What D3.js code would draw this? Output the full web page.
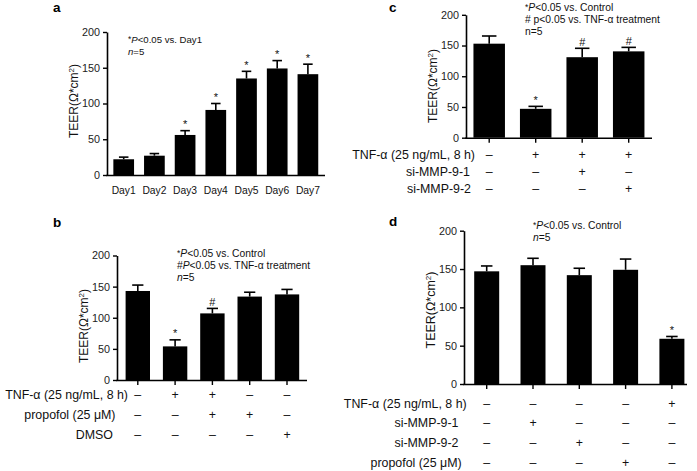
<!DOCTYPE html>
<html><head><meta charset="utf-8">
<script src="https://cdn.jsdelivr.net/npm/d3@7/dist/d3.min.js"></script>
<style>
html,body{margin:0;padding:0;background:#fff;}
svg{display:block;font-family:"Liberation Sans",Arial,sans-serif;}
</style></head>
<body>
<svg id="chart" width="697" height="471"></svg>
<script>
// ---------- DATA ----------
const yTicks = [0, 50, 100, 150, 200];

// Panel a
const aCats = ["Day1", "Day2", "Day3", "Day4", "Day5", "Day6", "Day7"];
const aMeans = [22, 27, 56, 91, 135, 149, 141];
const aSD = [3, 3, 6, 9, 10, 11, 14];
const aSig = ["", "", "*", "*", "*", "*", "*"];

// Panel b
const bCats = ["b1", "b2", "b3", "b4", "b5"];
const bMeans = [143, 54, 107, 134, 137.5];
const bSD = [9.5, 10.5, 8, 7, 8];
const bSig = ["", "*", "#", "", ""];
const bRowLabels = ["TNF-α (25 ng/mL, 8 h)", "propofol (25 μM)", "DMSO"];
const bRowSigns = [
  ["–", "+", "+", "–", "–"],
  ["–", "–", "+", "+", "–"],
  ["–", "–", "–", "–", "+"]
];

// Panel c
const cCats = ["c1", "c2", "c3", "c4"];
const cMeans = [153, 47, 131, 140.5];
const cSD = [12.5, 4, 14.5, 6.5];
const cSig = ["", "*", "#", "#"];
const cRowLabels = ["TNF-α (25 ng/mL, 8 h)", "si-MMP-9-1", "si-MMP-9-2"];
const cRowSigns = [
  ["–", "+", "+", "+"],
  ["–", "–", "+", "–"],
  ["–", "–", "–", "+"]
];

// Panel d
const dCats = ["d1", "d2", "d3", "d4", "d5"];
const dMeans = [147, 155, 142, 149, 59];
const dSD = [7, 9, 9, 14, 3];
const dSig = ["", "", "", "", "*"];
const dRowLabels = ["TNF-α (25 ng/mL, 8 h)", "si-MMP-9-1", "si-MMP-9-2", "propofol (25 μM)"];
const dRowSigns = [
  ["–", "–", "–", "–", "+"],
  ["–", "+", "–", "–", "–"],
  ["–", "–", "+", "–", "–"],
  ["–", "–", "–", "+", "–"]
];

// ---------- DRAW ----------
const svg = d3.select("#chart");
const FONT_TXT = "#111";

function panel(o) {
  const g = svg.append("g");
  const y = d3.scaleLinear().domain([0, 200]).range([o.y0, o.y200]);
  const n = o.cats.length;
  const pi = 1 - o.bw / o.step;
  const x = d3.scaleBand().domain(o.cats)
    .range([o.c0 - o.step / 2, o.c0 - o.step / 2 + n * o.step])
    .paddingInner(pi).paddingOuter(pi / 2);
  const cx = c => x(c) + x.bandwidth() / 2;

  // bars
  g.selectAll("rect.bar").data(o.cats).join("rect")
    .attr("x", c => x(c)).attr("width", x.bandwidth())
    .attr("y", (c, i) => y(o.means[i]))
    .attr("height", (c, i) => y(0) - y(o.means[i]))
    .attr("fill", "#000");

  // error bars
  const capW = x.bandwidth() * 0.46;
  o.cats.forEach((c, i) => {
    const top = y(o.means[i] + o.sd[i]);
    g.append("line").attr("x1", cx(c)).attr("x2", cx(c))
      .attr("y1", y(o.means[i])).attr("y2", top)
      .attr("stroke", "#000").attr("stroke-width", 1.6);
    g.append("line").attr("x1", cx(c) - capW / 2).attr("x2", cx(c) + capW / 2)
      .attr("y1", top).attr("y2", top)
      .attr("stroke", "#000").attr("stroke-width", 1.6);
    if (o.sig[i]) {
      g.append("text").attr("x", cx(c)).attr("y", top - 2.5)
        .attr("text-anchor", "middle").attr("font-size", 11)
        .attr("fill", FONT_TXT).text(o.sig[i]);
    }
  });

  // y axis
  const ya = g.append("g").attr("transform", `translate(${o.x0},0)`)
    .call(d3.axisLeft(y).tickValues(yTicks).tickSize(4).tickSizeOuter(0).tickPadding(3));
  ya.select(".domain").attr("stroke-width", 1.6).attr("stroke", "#000");
  ya.selectAll(".tick line").attr("stroke-width", 1.4).attr("stroke", "#000");
  ya.selectAll(".tick text").attr("font-size", 10.8)
    .attr("font-family", '"Liberation Sans",Arial,sans-serif').attr("fill", "#222");

  // x axis line
  g.append("line").attr("x1", o.x0 - 0.8).attr("x2", o.x1)
    .attr("y1", y(0) + 0.5).attr("y2", y(0) + 0.5)
    .attr("stroke", "#000").attr("stroke-width", 1.6);

  if (o.xTicks) {
    o.cats.forEach(c => {
      g.append("line").attr("x1", cx(c)).attr("x2", cx(c))
        .attr("y1", y(0) + 0.5).attr("y2", y(0) + 5)
        .attr("stroke", "#000").attr("stroke-width", 1.4);
    });
  }
  if (o.catLabels) {
    o.cats.forEach(c => {
      g.append("text").attr("x", cx(c)).attr("y", o.catLabelY)
        .attr("text-anchor", "middle").attr("font-size", 10.3)
        .attr("fill", FONT_TXT).text(c);
    });
  }

  // y title
  g.append("text")
    .attr("transform", `translate(${o.x0 - 29.5},${o.titleY}) rotate(-90)`)
    .attr("text-anchor", "middle").attr("font-size", o.titleSize || 12)
    .attr("fill", FONT_TXT)
    .call(t => {
      t.append("tspan").text("TEER(Ω*cm");
      t.append("tspan").attr("font-size", 8).attr("dy", -4).text("2");
      t.append("tspan").attr("dy", 4).text(")");
    });

  // treatment rows
  if (o.rowLabels) {
    o.rowLabels.forEach((lab, r) => {
      g.append("text").attr("x", o.rowRight[r]).attr("y", o.rowY[r] + 4.3)
        .attr("text-anchor", "end").attr("font-size", 12.4)
        .attr("fill", FONT_TXT).text(lab);
      o.rowSigns[r].forEach((s, i) => {
        g.append("text").attr("x", cx(o.cats[i])).attr("y", o.rowY[r] + 4.3)
          .attr("text-anchor", "middle").attr("font-size", 12.4)
          .attr("fill", FONT_TXT).text(s);
      });
    });
  }

  // annotation lines
  o.notes.forEach((parts, k) => {
    const t = g.append("text").attr("x", o.noteX).attr("y", o.noteY + k * 12)
      .attr("font-size", o.noteSize || 10.3).attr("fill", FONT_TXT);
    parts.forEach(p => {
      const ts = t.append("tspan").text(p.t);
      if (p.i) ts.attr("font-style", "italic");
      if (p.s) ts.attr("font-size", 8.5).attr("dy", -1);
      if (p.u) ts.attr("dy", 1);
    });
  });

  // panel letter
  svg.append("text").attr("x", o.lx).attr("y", o.ly)
    .attr("font-size", 13.5).attr("font-weight", "bold").attr("fill", "#000")
    .text(o.letter);
}

panel({
  letter: "a", lx: 53, ly: 12.3,
  cats: aCats, means: aMeans, sd: aSD, sig: aSig,
  x0: 107, x1: 325, y0: 175, y200: 32, c0: 123.7, step: 30.7, bw: 20.7,
  xTicks: false, catLabels: true, catLabelY: 194,
  titleY: 101,
  notes: [
    [{t: "*", s: 1}, {t: "P", i: 1, u: 1}, {t: "<0.05 vs. Day1"}],
    [{t: "n", i: 1}, {t: "=5"}]
  ],
  noteX: 128, noteY: 43, noteSize: 9.6
});

panel({
  letter: "b", lx: 53, ly: 227,
  cats: bCats, means: bMeans, sd: bSD, sig: bSig,
  x0: 117, x1: 307, y0: 380, y200: 255.5, c0: 137.8, step: 37.3, bw: 24.4,
  xTicks: true, titleY: 326,
  rowLabels: bRowLabels, rowSigns: bRowSigns,
  rowY: [395, 414.5, 434.5], rowRight: [128, 115.5, 113],
  notes: [
    [{t: "*", s: 1}, {t: "P", i: 1, u: 1}, {t: "<0.05 vs. Control"}],
    [{t: "#"}, {t: "P", i: 1}, {t: "<0.05 vs. TNF-α treatment"}],
    [{t: "n", i: 1}, {t: "=5"}]
  ],
  noteX: 177, noteY: 257
});

panel({
  letter: "c", lx: 389, ly: 12.3,
  cats: cCats, means: cMeans, sd: cSD, sig: cSig,
  x0: 466, x1: 652, y0: 137.7, y200: 14.8, c0: 489.2, step: 46.5, bw: 31.5,
  xTicks: true, titleY: 86,
  rowLabels: cRowLabels, rowSigns: cRowSigns,
  rowY: [154.3, 172, 189], rowRight: [475, 470, 471],
  notes: [
    [{t: "*", s: 1}, {t: "P", i: 1, u: 1}, {t: "<0.05 vs. Control"}],
    [{t: "# p<0.05 vs. TNF-α treatment"}],
    [{t: "n=5"}]
  ],
  noteX: 525, noteY: 11
});

panel({
  letter: "d", lx: 389, ly: 226,
  cats: dCats, means: dMeans, sd: dSD, sig: dSig,
  x0: 464, x1: 687, y0: 384, y200: 230.7, c0: 486.7, step: 46.3, bw: 25,
  xTicks: true, titleY: 310, titleSize: 12.5,
  rowLabels: dRowLabels, rowSigns: dRowSigns,
  rowY: [403.8, 423, 442.5, 462.5], rowRight: [466.7, 458.5, 458.5, 461.7],
  notes: [
    [{t: "*", s: 1}, {t: "P", i: 1, u: 1}, {t: "<0.05 vs. Control"}],
    [{t: "n", i: 1}, {t: "=5"}]
  ],
  noteX: 533, noteY: 229
});
</script>
</body></html>
